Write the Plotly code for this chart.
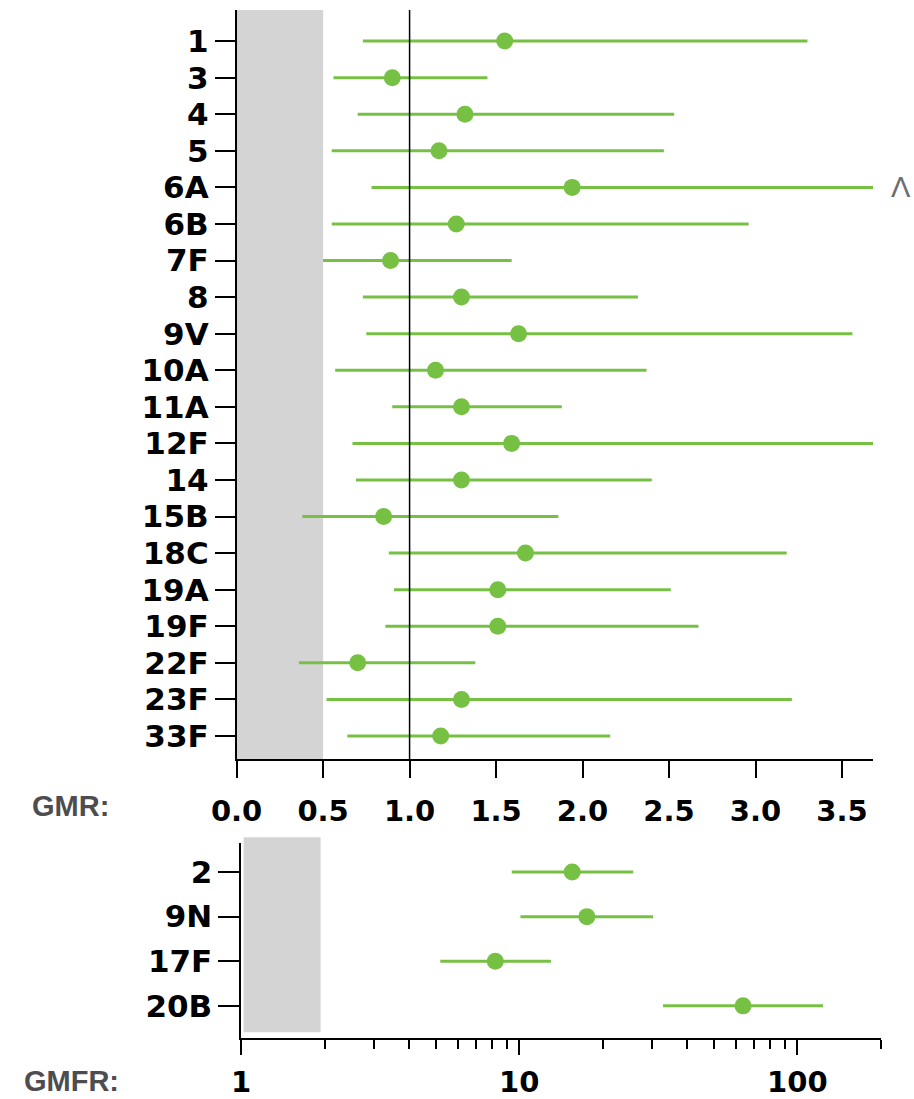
import plotly.graph_objects as go

# Serotypes on the GMR (linear) panel
gmr_types = ["1", "3", "4", "5", "6A", "6B", "7F", "8", "9V", "10A",
             "11A", "12F", "14", "15B", "18C", "19A", "19F", "22F", "23F", "33F"]
gmr_est = [1.55, 0.90, 1.32, 1.17, 1.94, 1.27, 0.89, 1.30, 1.63, 1.15,
           1.30, 1.59, 1.30, 0.85, 1.67, 1.51, 1.51, 0.70, 1.30, 1.18]
gmr_lo = [0.73, 0.56, 0.70, 0.55, 0.78, 0.55, 0.50, 0.73, 0.75, 0.57,
          0.90, 0.67, 0.69, 0.38, 0.88, 0.91, 0.86, 0.36, 0.52, 0.64]
gmr_hi = [3.30, 1.45, 2.53, 2.47, 4.20, 2.96, 1.59, 2.32, 3.56, 2.37,
          1.88, 4.20, 2.40, 1.86, 3.18, 2.51, 2.67, 1.38, 3.21, 2.16]
gmr_ticks = [0.0, 0.5, 1.0, 1.5, 2.0, 2.5, 3.0, 3.5]

# Serotypes on the GMFR (log) panel
gmfr_types = ["2", "9N", "17F", "20B"]
gmfr_est = [15.5, 17.5, 8.2, 63.8]
gmfr_lo = [9.4, 10.1, 5.2, 32.9]
gmfr_hi = [25.7, 30.3, 13.0, 123.8]
gmfr_ticks = [1, 10, 100]
gmfr_minor = [2, 3, 4, 5, 6, 7, 8, 9, 20, 30, 40, 50, 60, 70, 80, 90, 200]

GREEN = "#76C044"
W, H = 914, 1099
x_font = dict(family="DejaVu Sans", size=29, color="black", weight=700)
y_font = dict(family="DejaVu Sans", size=31, color="black", weight=700)
name_font = dict(family="Liberation Sans", size=29, color="#4D4D4F", weight=700)


def segments(lo, hi, cats):
    xs, ys = [], []
    for a, b, c in zip(lo, hi, cats):
        xs += [a, b, None]
        ys += [c, c, None]
    return xs, ys


fig = go.Figure()

# GMR panel
sx, sy = segments(gmr_lo, gmr_hi, gmr_types)
fig.add_trace(go.Scatter(x=sx, y=sy, mode="lines", line=dict(color=GREEN, width=3),
                         xaxis="x", yaxis="y", hoverinfo="skip", showlegend=False))
fig.add_trace(go.Scatter(x=gmr_est, y=gmr_types, mode="markers",
                         marker=dict(color=GREEN, size=17),
                         xaxis="x", yaxis="y", showlegend=False))

# GMFR panel
sx2, sy2 = segments(gmfr_lo, gmfr_hi, gmfr_types)
fig.add_trace(go.Scatter(x=sx2, y=sy2, mode="lines", line=dict(color=GREEN, width=3),
                         xaxis="x2", yaxis="y2", hoverinfo="skip", showlegend=False))
fig.add_trace(go.Scatter(x=gmfr_est, y=gmfr_types, mode="markers",
                         marker=dict(color=GREEN, size=17),
                         xaxis="x2", yaxis="y2", showlegend=False))

# shaded region below the threshold, and reference line at GMR = 1
fig.add_shape(type="rect", xref="x", yref="y domain", x0=0, x1=0.5, y0=0, y1=1,
              fillcolor="#D4D4D4", line_width=0, layer="below")
fig.add_shape(type="rect", xref="x2", yref="y2 domain", x0=1.02, x1=1.93, y0=0.03, y1=1.03,
              fillcolor="#D4D4D4", line_width=0, layer="below")
fig.add_shape(type="line", xref="x", yref="y domain", x0=1, x1=1, y0=0, y1=1,
              line=dict(color="black", width=1.5))

axis_common = dict(showline=True, linecolor="black", linewidth=1.5, showgrid=False,
                   zeroline=False, ticks="outside", tickcolor="black", tickwidth=1.5,
                   automargin=False)

fig.update_layout(
    width=W, height=H, margin=dict(l=0, r=0, t=0, b=0),
    plot_bgcolor="white", paper_bgcolor="white",
    xaxis=dict(axis_common, domain=[236.6 / W, 873 / W], anchor="y",
               range=[0, 3.679], tickmode="array", tickvals=gmr_ticks,
               ticktext=[f"{v:.1f}" for v in gmr_ticks], tickfont=x_font,
               ticklen=17, ticklabelstandoff=8),
    yaxis=dict(axis_common, domain=[(H - 759) / H, (H - 10) / H], anchor="x",
               type="category", categoryorder="array", categoryarray=gmr_types,
               range=[19.63, -0.85], tickmode="array", tickvals=gmr_types,
               ticktext=gmr_types, tickfont=y_font, ticklen=20, ticklabelstandoff=0),
    xaxis2=dict(axis_common, domain=[241.2 / W, 881 / W], anchor="y2",
                type="log", range=[0, 2.301], tickmode="array", tickvals=gmfr_ticks,
                ticktext=[str(v) for v in gmfr_ticks], tickfont=x_font,
                ticklen=15, ticklabelstandoff=2,
                minor=dict(ticks="outside", tickvals=gmfr_minor, ticklen=9,
                           tickwidth=1.5, tickcolor="black", showgrid=False)),
    yaxis2=dict(axis_common, domain=[(H - 1038) / H, (H - 843) / H], anchor="x2",
                type="category", categoryorder="array", categoryarray=gmfr_types,
                range=[3.72, -0.65], tickmode="array", tickvals=gmfr_types,
                ticktext=gmfr_types, tickfont=y_font, ticklen=21, ticklabelstandoff=0),
)

fig.add_annotation(text="GMR:", xref="paper", yref="paper", x=30 / W, y=(H - 806) / H,
                   xanchor="left", yanchor="middle", showarrow=False, font=name_font)
fig.add_annotation(text="GMFR:", xref="paper", yref="paper", x=22 / W, y=(H - 1081) / H,
                   xanchor="left", yanchor="middle", showarrow=False, font=name_font)
# out-of-range marker for the 6A interval
fig.add_annotation(text="Λ", xref="paper", yref="y", x=913 / W, y="6A",
                   xanchor="right", yanchor="middle", showarrow=False,
                   font=dict(family="Liberation Sans", size=29, color="#6D6E71"))

fig.write_html("out.html")
